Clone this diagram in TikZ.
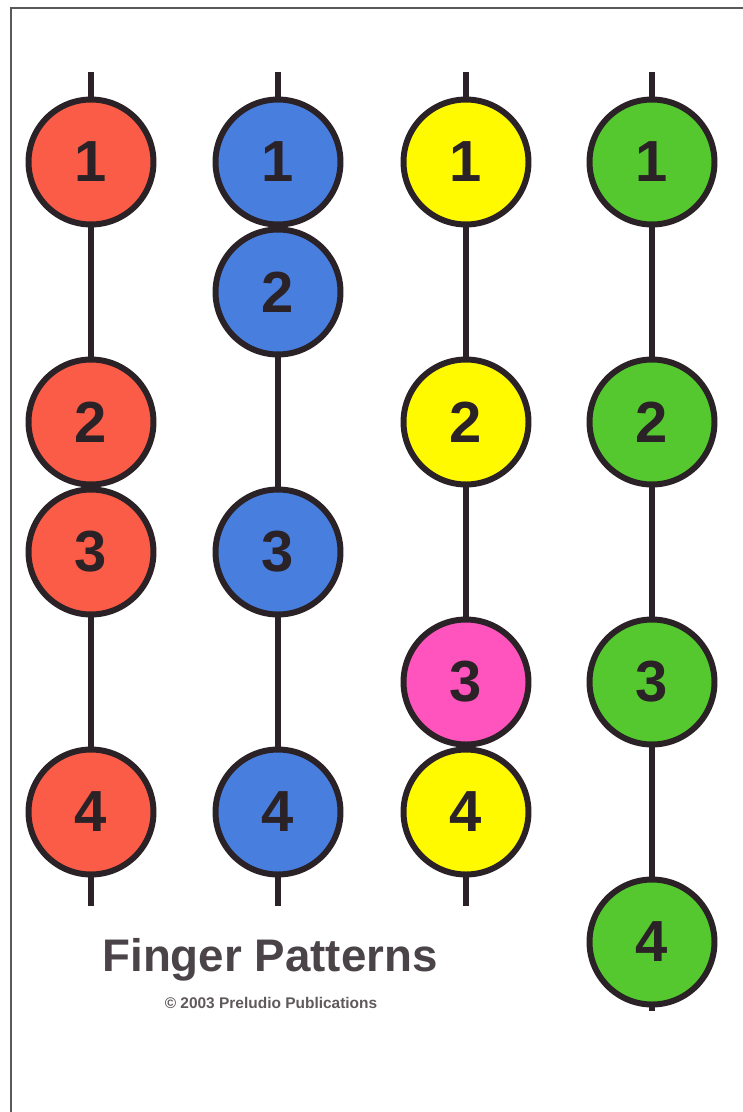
\documentclass[tikz,border=0pt]{standalone}
\usepackage{fontspec}
\setmainfont{Liberation Sans}
\usepackage{tikz}

\definecolor{fpred}{RGB}{250,92,72}
\definecolor{fpblue}{RGB}{72,126,222}
\definecolor{fpyellow}{RGB}{255,250,0}
\definecolor{fppink}{RGB}{255,84,190}
\definecolor{fpgreen}{RGB}{84,200,46}
\definecolor{fpink}{RGB}{42,34,38}

\tikzset{
  finger/.style={circle, draw=fpink, line width=3.4pt, minimum size=2.5cm,
    inner sep=0pt, text=fpink, font=\fontsize{33}{33}\selectfont\bfseries},
  string/.style={draw=fpink, line width=2.9pt}
}

\begin{document}
\begin{tikzpicture}[x=0.02cm, y=-0.02cm]
    \useasboundingbox (0,0) rectangle (743,1112);
    \draw[gray!70!black, line width=1.2pt] (11,1112) -- (11,8) -- (743,8);

    % red column
    \coordinate (rtop) at (91,72);
    \coordinate (rbot) at (91,906);
    \node[finger, fill=fpred] (r1) at (91,162) {1};
    \node[finger, fill=fpred] (r2) at (91,422) {2};
    \node[finger, fill=fpred] (r3) at (91,552) {3};
    \node[finger, fill=fpred] (r4) at (91,812) {4};
    \draw[string] (rtop) -- (r1);
    \draw[string] (r1) -- (r2);
    \draw[string] (r2) -- (r3);
    \draw[string] (r3) -- (r4);
    \draw[string] (r4) -- (rbot);

    % blue column
    \coordinate (btop) at (278,72);
    \coordinate (bbot) at (278,906);
    \node[finger, fill=fpblue] (b1) at (278,162) {1};
    \node[finger, fill=fpblue] (b2) at (278,292) {2};
    \node[finger, fill=fpblue] (b3) at (278,552) {3};
    \node[finger, fill=fpblue] (b4) at (278,812) {4};
    \draw[string] (btop) -- (b1);
    \draw[string] (b1) -- (b2);
    \draw[string] (b2) -- (b3);
    \draw[string] (b3) -- (b4);
    \draw[string] (b4) -- (bbot);

    % yellow column
    \coordinate (ytop) at (466,72);
    \coordinate (ybot) at (466,906);
    \node[finger, fill=fpyellow] (y1) at (466,162) {1};
    \node[finger, fill=fpyellow] (y2) at (466,422) {2};
    \node[finger, fill=fppink] (y3) at (466,682) {3};
    \node[finger, fill=fpyellow] (y4) at (466,812) {4};
    \draw[string] (ytop) -- (y1);
    \draw[string] (y1) -- (y2);
    \draw[string] (y2) -- (y3);
    \draw[string] (y3) -- (y4);
    \draw[string] (y4) -- (ybot);

    % green column
    \coordinate (gtop) at (652,72);
    \coordinate (gbot) at (652,1011);
    \node[finger, fill=fpgreen] (g1) at (652,162) {1};
    \node[finger, fill=fpgreen] (g2) at (652,422) {2};
    \node[finger, fill=fpgreen] (g3) at (652,682) {3};
    \node[finger, fill=fpgreen] (g4) at (652,942) {4};
    \draw[string] (gtop) -- (g1);
    \draw[string] (g1) -- (g2);
    \draw[string] (g2) -- (g3);
    \draw[string] (g3) -- (g4);
    \draw[string] (g4) -- (gbot);

    \node[text=fpink!85!white, font=\fontsize{26}{26}\selectfont\bfseries] (title) at (270,960) {Finger Patterns};
    \node[text=fpink!75!white, font=\fontsize{8.8}{8.8}\selectfont\bfseries] (copy) at (271,1003) {© 2003 Preludio Publications};
  \end{tikzpicture}
\end{document}
